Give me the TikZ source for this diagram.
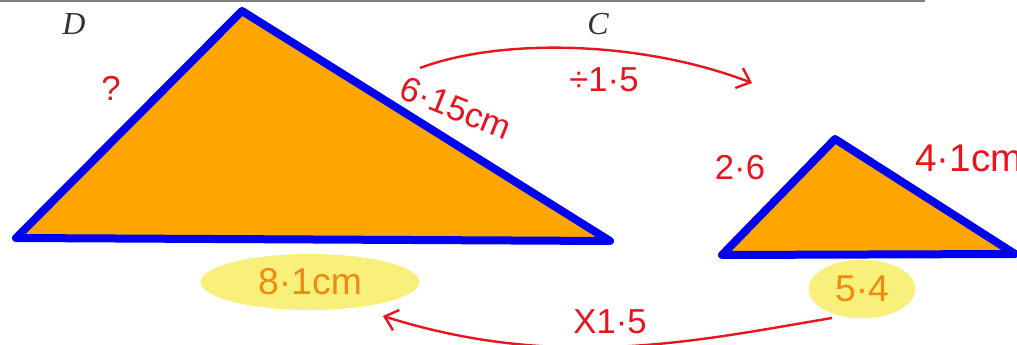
\documentclass[tikz,border=0pt]{standalone}
\usepackage{fontspec}
\setmainfont{Liberation Serif}
\newfontfamily\hand{Liberation Sans}
\usetikzlibrary{arrows.meta}
\definecolor{tri}{HTML}{FFA500}
\definecolor{edge}{HTML}{0000F0}
\definecolor{pen}{HTML}{E8141E}
\definecolor{hl}{HTML}{F8F07A}
\definecolor{ink}{HTML}{F08A10}
\tikzset{
  trishape/.style={fill=tri, draw=edge, line width=6pt, line join=round},
  redlbl/.style={text=pen, font=\hand\fontsize{26}{28}\selectfont, inner sep=0pt},
  orglbl/.style={text=ink, font=\hand\fontsize{28}{30}\selectfont, inner sep=0pt},
  vlbl/.style={font=\itshape\fontsize{24}{26}\selectfont, text=black!80, inner sep=0pt},
  hlblob/.style={fill=hl, draw=none},
  redarrow/.style={draw=pen, line width=1.8pt, -{Straight Barb[length=9pt,width=16pt,line width=1.8pt]}}
}
\begin{document}
\begin{tikzpicture}[x=0.75pt,y=-0.75pt]
\useasboundingbox (0,0) rectangle (1017,345);
\draw[gray, line width=1.5pt] (0,1) -- (925,1);
% big triangle
\coordinate (A1) at (16,238);
\coordinate (B1) at (242,11);
\coordinate (C1) at (610,241);
\draw[trishape] (A1) -- (B1) -- (C1) -- cycle;
% small triangle
\coordinate (A2) at (722,255);
\coordinate (B2) at (835,139);
\coordinate (C2) at (1015,254);
\draw[trishape] (A2) -- (B2) -- (C2) -- cycle;
% vertex labels
\node[vlbl] (D) at (74,24) {D};
\node[vlbl] (C) at (598,24) {C};
% labels
\node[redlbl] (q) at (111,88) {?};
\node[redlbl, rotate=-22] (s1) at (456,108) {6·15cm};
\node[redlbl] (div) at (604,80) {÷1·5};
\node[redlbl] (s2) at (740,168) {2·6};
\node[redlbl, anchor=west, font=\hand\fontsize{29}{30}\selectfont] (s3) at (915,158) {4·1cm};
% highlights
\fill[hlblob] (310,282) ellipse (82pt and 21pt);
\fill[hlblob] (862,289) ellipse (40pt and 22pt);
\node[orglbl] (b1) at (310,282) {8·1cm};
\node[orglbl] (b2) at (862,289) {5·4};
\node[redlbl] (mul) at (610,322) {X1·5};
% arrows
\coordinate (t0) at (420,68);
\coordinate (t1) at (752,83);
\draw[redarrow] (t0) .. controls (500,38) and (640,40) .. (t1);
\coordinate (u0) at (832,318);
\coordinate (u1) at (383,316);
\draw[redarrow] (u0) .. controls (700,340) and (560,372) .. (u1);
\end{tikzpicture}
\end{document}
